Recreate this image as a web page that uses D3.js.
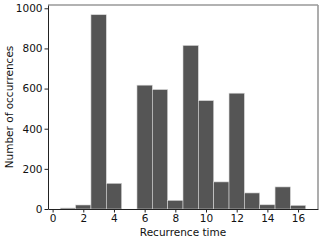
<!DOCTYPE html>
<html>
<head>
<meta charset="utf-8">
<script src="https://cdn.jsdelivr.net/npm/d3@7"></script>
<style>
  body { margin: 0; background: #fff; }
  text { font-family: "DejaVu Sans", sans-serif; }
</style>
</head>
<body>
<svg id="chart" width="324" height="242"></svg>
<script>
// recurrence time bins (centres) and counts
var binCenters = [1, 2, 3, 4, 5, 6, 7, 8, 9, 10, 11, 12, 13, 14, 15, 16];
var counts = [5, 20, 968, 128, 0, 617, 595, 43, 815, 540, 135, 577, 80, 21, 110, 18];
var xTicks = [0, 2, 4, 6, 8, 10, 12, 14, 16];
var yTicks = [0, 200, 400, 600, 800, 1000];

var plotL = 48, plotR = 318, plotT = 5, plotB = 209;

var svg = d3.select("#chart");

var x = d3.scaleLinear().domain([-0.3, 17.3]).range([plotL, plotR]);
var y = d3.scaleLinear().domain([0, 1016.4]).range([plotB, plotT]);

//--bars--
svg.append("g")
    .selectAll("rect")
    .data(binCenters)
    .join("rect")
    .attr("x", function (d) { return x(d - 0.5); })
    .attr("width", function (d) { return x(d + 0.5) - x(d - 0.5); })
    .attr("y", function (d, i) { return y(counts[i]); })
    .attr("height", function (d, i) { return y(0) - y(counts[i]); })
    .attr("fill", "#555555")
    .attr("stroke", "#d8d8d8")
    .attr("stroke-width", 0.6);

//--frame: top/right light, left/bottom dark--
svg.append("line").attr("x1", plotL).attr("x2", plotR).attr("y1", plotT).attr("y2", plotT)
    .attr("stroke", "#999").attr("stroke-width", 1.6);
svg.append("line").attr("x1", plotR).attr("x2", plotR).attr("y1", plotT).attr("y2", plotB)
    .attr("stroke", "#999").attr("stroke-width", 1.6);

//--axes--
var gx = svg.append("g")
    .attr("transform", "translate(0," + plotB + ")")
    .call(d3.axisBottom(x).tickValues(xTicks).tickSize(3.5).tickPadding(2).tickSizeOuter(0));
var gy = svg.append("g")
    .attr("transform", "translate(" + plotL + ",0)")
    .call(d3.axisLeft(y).tickValues(yTicks).tickFormat(d3.format("d")).tickSize(3.5).tickPadding(2).tickSizeOuter(0));

[gx, gy].forEach(function (g) {
    g.select(".domain").attr("stroke", "#222").attr("stroke-width", 1);
    g.selectAll(".tick line").attr("stroke", "#222");
    g.selectAll(".tick text").attr("font-size", 10.5).attr("fill", "#111")
        .style("font-family", "'DejaVu Sans', sans-serif");
});

//--axis labels--
svg.append("text")
    .attr("x", (plotL + plotR) / 2)
    .attr("y", 236)
    .attr("text-anchor", "middle")
    .attr("font-size", 10.5)
    .attr("fill", "#111")
    .text("Recurrence time");

svg.append("text")
    .attr("transform", "translate(13," + (plotT + plotB) / 2 + ") rotate(-90)")
    .attr("text-anchor", "middle")
    .attr("font-size", 10.5)
    .attr("fill", "#111")
    .text("Number of occurrences");
</script>
</body>
</html>
